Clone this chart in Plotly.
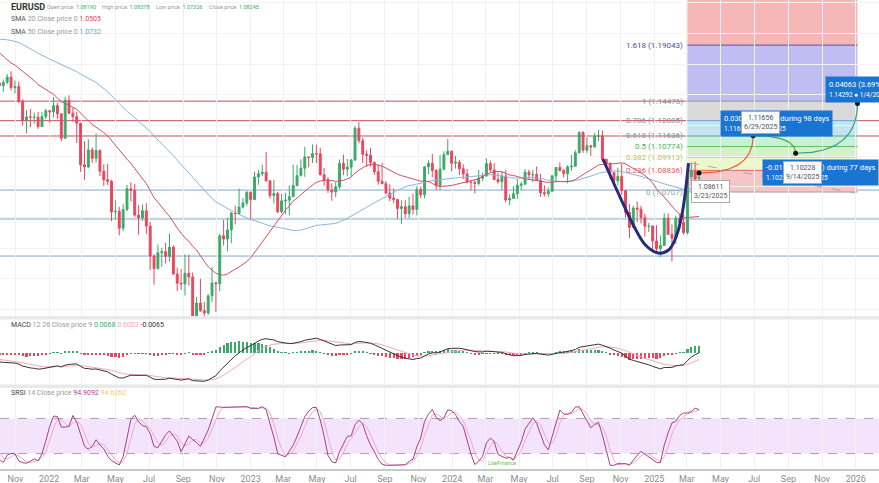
import numpy as np
import pandas as pd
import plotly.graph_objects as go
from plotly.subplots import make_subplots

W, H = 879, 483
FONT = "Roboto"
UP, DOWN = "#3aaa6a", "#e8475f"

# --- EURUSD weekly data (weeks start on Sunday, last week = 2025-03-23) ---
# closes before the visible window, used only to warm up SMA / MACD / SRSI
pre_close = [1.1824, 1.1837, 1.1860, 1.1647, 1.1876, 1.1834, 1.1856, 1.1962, 1.2121, 1.2113,
             1.2256, 1.2187, 1.2216, 1.2220, 1.2080, 1.2170, 1.2136, 1.2045, 1.2118, 1.2120,
             1.2075, 1.1915, 1.1952, 1.1903, 1.1795, 1.1762, 1.1900, 1.1982, 1.2097, 1.2020,
             1.2164, 1.2141, 1.2180, 1.2194, 1.2168, 1.2108, 1.1865, 1.1936, 1.1866, 1.1875,
             1.1806, 1.1772, 1.1870, 1.1762, 1.1795, 1.1697, 1.1795, 1.1880, 1.1813, 1.1726,
             1.1718, 1.1596]

close = [
    1.1573, 1.1601, 1.1644, 1.1558, 1.1567, 1.1446, 1.1289, 1.1319, 1.1316, 1.1317, 1.1240, 1.1322, 1.1370,  # 2021
    1.1360, 1.1411, 1.1344, 1.1145, 1.1454, 1.1349, 1.1322, 1.1268, 1.0929, 1.0911, 1.1050, 1.0982, 1.1046,  # 2022
    1.0876, 1.0807, 1.0794, 1.0545, 1.0550, 1.0412, 1.0564, 1.0733, 1.0721, 1.0519, 1.0496, 1.0554, 1.0430,
    1.0185, 1.0082, 1.0212, 1.0220, 1.0182, 1.0258, 1.0038, 0.9964, 0.9958, 1.0045, 1.0015, 0.9690, 0.9802,
    0.9740, 0.9721, 0.9861, 0.9966, 0.9960, 1.0350, 1.0324, 1.0398, 1.0536, 1.0531, 1.0584, 1.0617, 1.0705,
    1.0645, 1.0830, 1.0856, 1.0868, 1.0798, 1.0678, 1.0694, 1.0547, 1.0635, 1.0641, 1.0669, 1.0760, 1.0841,  # 2023
    1.0901, 1.0993, 1.0989, 1.1020, 1.1018, 1.0848, 1.0805, 1.0724, 1.0707, 1.0749, 1.0940, 1.0893, 1.0910,
    1.0968, 1.1227, 1.1125, 1.1015, 1.1007, 1.0947, 1.0872, 1.0795, 1.0775, 1.0699, 1.0657, 1.0645, 1.0573,
    1.0587, 1.0530, 1.0594, 1.0565, 1.0729, 1.0685, 1.0912, 1.0940, 1.0882, 1.0761, 1.0893, 1.1012, 1.1039,
    1.0942, 1.0950, 1.0897, 1.0854, 1.0786, 1.0784, 1.0777, 1.0820, 1.0838, 1.0938, 1.0887, 1.0809, 1.0791,  # 2024
    1.0838, 1.0642, 1.0655, 1.0693, 1.0762, 1.0771, 1.0869, 1.0847, 1.0849, 1.0801, 1.0702, 1.0693, 1.0713,
    1.0839, 1.0907, 1.0883, 1.0856, 1.0911, 1.0917, 1.1027, 1.1193, 1.1048, 1.1084, 1.1075, 1.1162, 1.1164,
    1.0975, 1.0936, 1.0867, 1.0797, 1.0834, 1.0718, 1.0541, 1.0419, 1.0576, 1.0567, 1.0500, 1.0428, 1.0429,
    1.0308, 1.0245, 1.0272, 1.0494, 1.0362, 1.0330, 1.0493, 1.0460, 1.0376, 1.0834, 1.0876, 1.0816, 1.08245,  # 2025
]
high = [
    1.1640, 1.1624, 1.1669, 1.1692, 1.1616, 1.1608, 1.1464, 1.1374, 1.1383, 1.1355, 1.1360, 1.1360, 1.1386,
    1.1367, 1.1482, 1.1433, 1.1336, 1.1483, 1.1495, 1.1395, 1.1360, 1.1234, 1.1121, 1.1137, 1.1070, 1.1185,
    1.1054, 1.0932, 1.0936, 1.0807, 1.0642, 1.0586, 1.0607, 1.0765, 1.0787, 1.0774, 1.0601, 1.0606, 1.0615,
    1.0463, 1.0200, 1.0279, 1.0254, 1.0293, 1.0368, 1.0273, 1.0090, 1.0079, 1.0199, 1.0198, 1.0051, 0.9853,
    0.9999, 0.9810, 0.9875, 1.0094, 0.9976, 1.0366, 1.0481, 1.0496, 1.0545, 1.0595, 1.0736, 1.0658, 1.0713,
    1.0713, 1.0874, 1.0887, 1.0929, 1.1033, 1.0806, 1.0805, 1.0709, 1.0692, 1.0701, 1.0760, 1.0930, 1.0927,
    1.0973, 1.1075, 1.0991, 1.1095, 1.1092, 1.1068, 1.0904, 1.0829, 1.0779, 1.0787, 1.0971, 1.1012, 1.0976,
    1.0975, 1.1245, 1.1276, 1.1149, 1.1047, 1.1065, 1.0955, 1.0932, 1.0946, 1.0796, 1.0769, 1.0736, 1.0652,
    1.0640, 1.0640, 1.0668, 1.0695, 1.0756, 1.0748, 1.0914, 1.0965, 1.1017, 1.0894, 1.1009, 1.1040, 1.1140,
    1.1046, 1.1000, 1.0969, 1.0933, 1.0895, 1.0806, 1.0806, 1.0888, 1.0866, 1.0981, 1.0964, 1.0942, 1.0865,
    1.0877, 1.0885, 1.0690, 1.0753, 1.0812, 1.0790, 1.0895, 1.0889, 1.0889, 1.0916, 1.0853, 1.0761, 1.0744,
    1.0844, 1.0910, 1.0948, 1.0895, 1.0926, 1.1008, 1.1048, 1.1202, 1.1202, 1.1155, 1.1091, 1.1189, 1.1214,
    1.1209, 1.0976, 1.0951, 1.0871, 1.0905, 1.0937, 1.0725, 1.0609, 1.0596, 1.0630, 1.0595, 1.0530, 1.0455,
    1.0437, 1.0437, 1.0353, 1.0533, 1.0533, 1.0443, 1.0513, 1.0528, 1.0528, 1.0888, 1.0947, 1.0955, 1.08378,
]
low = [
    1.1529, 1.1522, 1.1586, 1.1535, 1.1513, 1.1432, 1.1250, 1.1186, 1.1235, 1.1262, 1.1222, 1.1264, 1.1300,
    1.1272, 1.1314, 1.1300, 1.1121, 1.1144, 1.1341, 1.1280, 1.1106, 1.0871, 1.0806, 1.0900, 1.0945, 1.0945,
    1.0837, 1.0757, 1.0765, 1.0470, 1.0483, 1.0354, 1.0389, 1.0550, 1.0628, 1.0505, 1.0359, 1.0470, 1.0366,
    1.0072, 0.9952, 1.0078, 1.0097, 1.0123, 1.0141, 1.0034, 0.9900, 0.9910, 0.9864, 0.9944, 0.9668, 0.9536,
    0.9730, 0.9631, 0.9705, 0.9810, 0.9730, 0.9899, 1.0271, 1.0224, 1.0290, 1.0443, 1.0549, 1.0573, 1.0596,
    1.0483, 1.0644, 1.0766, 1.0835, 1.0793, 1.0654, 1.0613, 1.0532, 1.0533, 1.0525, 1.0516, 1.0713, 1.0788,
    1.0832, 1.0831, 1.0910, 1.0944, 1.0942, 1.0840, 1.0760, 1.0700, 1.0635, 1.0665, 1.0732, 1.0844, 1.0835,
    1.0833, 1.0959, 1.1103, 1.0943, 1.0912, 1.0914, 1.0845, 1.0766, 1.0770, 1.0686, 1.0632, 1.0616, 1.0488,
    1.0448, 1.0496, 1.0495, 1.0523, 1.0516, 1.0657, 1.0656, 1.0853, 1.0828, 1.0724, 1.0723, 1.0885, 1.1008,
    1.0877, 1.0897, 1.0845, 1.0813, 1.0778, 1.0722, 1.0695, 1.0761, 1.0796, 1.0832, 1.0872, 1.0803, 1.0776,
    1.0724, 1.0623, 1.0601, 1.0655, 1.0650, 1.0723, 1.0765, 1.0805, 1.0788, 1.0798, 1.0668, 1.0671, 1.0666,
    1.0710, 1.0788, 1.0873, 1.0825, 1.0778, 1.0880, 1.0919, 1.1021, 1.1026, 1.1026, 1.1001, 1.1068, 1.1121,
    1.0950, 1.0906, 1.0811, 1.0761, 1.0760, 1.0683, 1.0497, 1.0332, 1.0423, 1.0460, 1.0450, 1.0343, 1.0380,
    1.0226, 1.0213, 1.0178, 1.0266, 1.0360, 1.0141, 1.0285, 1.0401, 1.0359, 1.0360, 1.0803, 1.0797, 1.07326,
]
last_open = 1.08190     # header "Open price" of the current week

# --- drawings ---
fib_price = [1.0707, 1.08836, 1.09913, 1.10774, 1.11636, 1.12885, 1.14476, 1.19043, 1.2646]
fib_label = ["0 (1.0707)", "0.236 (1.08836)", "0.382 (1.09913)", "0.5 (1.10774)", "0.618 (1.11636)",
             "0.786 (1.12885)", "1 (1.14476)", "1.618 (1.19043)", None]
fib_line = ["#8fa4b4", "#e06464", "#b9cf52", "#5cb85c", "#5aa4a0", "#6aa8d6", "#9a9a9a", "#6b4c8f", None]
fib_text = ["#8fa0ae", "#d9605a", "#b5c94a", "#4caf50", "#6a9c9a", "#8a8a8a", "#8a8a8a", "#4d4d8f", None]
fib_fill = ["#f6c6c6", "#eef6cc", "#d6f1c8", "#c8efd8", "#c4e4f4", "#dadada", "#bebef2", "#f4b6b6"]
fib_start, fib_end = "2025-03-02", "2026-01-04"

red_levels = [1.14476, 1.12885, 1.11636]
blue_levels = [1.0723, 1.0487, 1.0185]

cup_dates = ["2024-09-30", "2024-10-31", "2024-11-24", "2024-12-16", "2025-01-08",
             "2025-01-27", "2025-02-10", "2025-02-21", "2025-03-04"]
cup_prices = [1.0976, 1.0666, 1.0438, 1.0275, 1.0210, 1.0234, 1.0348, 1.0544, 1.0943]

trend_dates = ["2025-03-07", "2025-12-31"]
trend_prices = [1.0943, 1.0699]

proj_dates = ["2025-03-23", "2025-06-29", "2025-09-14", "2026-01-04"]
proj_prices = [1.08611, 1.11656, 1.10228, 1.14292]
proj_colors = ["#e0603a", "#3fae5a", "#3a9e8a"]

# --- series ---
closes_all = pd.Series(pre_close + close, dtype=float)
dates_all = pd.date_range(end="2025-03-23", periods=len(closes_all), freq="W-SUN")
n_pre = len(pre_close)
dates = dates_all[n_pre:]
opens = list(closes_all.shift(1).iloc[n_pre:])   # FX weekly open ~ previous close
opens[-1] = last_open

sma20 = closes_all.rolling(20).mean()
sma50 = closes_all.rolling(50).mean()

ema12 = closes_all.ewm(span=12, adjust=False).mean()
ema26 = closes_all.ewm(span=26, adjust=False).mean()
macd = ema12 - ema26
signal = macd.ewm(span=9, adjust=False).mean()
hist = macd - signal

delta = closes_all.diff()
gain = delta.clip(lower=0).ewm(alpha=1 / 14, adjust=False).mean()
loss = (-delta.clip(upper=0)).ewm(alpha=1 / 14, adjust=False).mean()
rsi = 100 - 100 / (1 + gain / loss)
lo14, hi14 = rsi.rolling(14).min(), rsi.rolling(14).max()
stoch = (rsi - lo14) / (hi14 - lo14) * 100
k_line = stoch.rolling(3).mean()
d_line = k_line.rolling(3).mean()


def paper_x(px):
    return px / W


def paper_y(py):
    return 1 - py / H


fig = make_subplots(rows=3, cols=1, shared_xaxes=True, vertical_spacing=0)

fig.add_trace(go.Candlestick(x=dates, open=opens, high=high, low=low, close=close,
                             increasing=dict(line=dict(color=UP, width=1), fillcolor=UP),
                             decreasing=dict(line=dict(color=DOWN, width=1), fillcolor=DOWN),
                             whiskerwidth=0, hoverinfo="skip"), row=1, col=1)
fig.add_trace(go.Scatter(x=dates_all, y=sma50, mode="lines", line=dict(color="#8ab6dc", width=1)), row=1, col=1)
fig.add_trace(go.Scatter(x=dates_all, y=sma20, mode="lines", line=dict(color="#cf4f68", width=1)), row=1, col=1)

# cup drawing + trend
fig.add_trace(go.Scatter(x=cup_dates, y=cup_prices, mode="lines", line=dict(color="#2b2a78", width=3, shape="spline")),
              row=1, col=1)
fig.add_trace(go.Scatter(x=trend_dates, y=trend_prices, mode="lines",
                         line=dict(color="#a8a8a8", width=1, dash="dash")), row=1, col=1)

# projection path: each leg leaves flat and arrives steep
t = np.linspace(0, 1, 40)
pms = [pd.Timestamp(d).value / 1e6 for d in proj_dates]
for i in range(len(proj_dates) - 1):
    x0, x1, y0, y1 = pms[i], pms[i + 1], proj_prices[i], proj_prices[i + 1]
    bx = (1 - t) ** 2 * x0 + 2 * (1 - t) * t * x1 + t ** 2 * x1
    by = (1 - t) ** 2 * y0 + 2 * (1 - t) * t * y0 + t ** 2 * y1
    fig.add_trace(go.Scatter(x=pd.to_datetime(bx, unit="ms"), y=by, mode="lines",
                             line=dict(color=proj_colors[i], width=1.2)), row=1, col=1)
fig.add_trace(go.Scatter(x=proj_dates, y=proj_prices, mode="markers",
                         marker=dict(color="#111", size=5)), row=1, col=1)

# MACD
fig.add_trace(go.Bar(x=dates_all, y=hist, width=4 * 86400000,
                     marker=dict(color=[UP if v >= 0 else DOWN for v in hist.fillna(0)], line=dict(width=0))),
              row=2, col=1)
fig.add_trace(go.Scatter(x=dates_all, y=signal, mode="lines", line=dict(color="#f2a9b8", width=1)), row=2, col=1)
fig.add_trace(go.Scatter(x=dates_all, y=macd, mode="lines", line=dict(color="#333", width=1)), row=2, col=1)

# SRSI
fig.add_trace(go.Scatter(x=dates_all, y=d_line, mode="lines", line=dict(color="#f3a8c8", width=1)), row=3, col=1)
fig.add_trace(go.Scatter(x=dates_all, y=k_line, mode="lines", line=dict(color="#a2408e", width=1)), row=3, col=1)

shapes = []
# fib bands + levels
for i in range(len(fib_fill)):
    shapes.append(dict(type="rect", xref="x", yref="y", x0=fib_start, x1=fib_end,
                       y0=fib_price[i], y1=min(fib_price[i + 1], 1.2272),
                       fillcolor=fib_fill[i], line=dict(width=0), layer="below"))
for p, c in zip(fib_price, fib_line):
    if c:
        shapes.append(dict(type="line", xref="x", yref="y", x0=fib_start, x1=fib_end, y0=p, y1=p,
                           line=dict(color=c, width=1), layer="below"))
for p in red_levels:
    shapes.append(dict(type="line", xref="x domain", yref="y", x0=0, x1=1, y0=p, y1=p,
                       line=dict(color="#c0505c", width=1), layer="below"))
for p in blue_levels:
    shapes.append(dict(type="line", xref="x domain", yref="y", x0=0, x1=1, y0=p, y1=p,
                       line=dict(color="#7fa9c9", width=1), layer="below"))
# SRSI band
shapes.append(dict(type="rect", xref="x3 domain", yref="y3", x0=0, x1=1, y0=20, y1=80,
                   fillcolor="#f3e4fb", line=dict(width=0), layer="below"))
for lv in (20, 80):
    shapes.append(dict(type="line", xref="x3 domain", yref="y3", x0=0, x1=1, y0=lv, y1=lv,
                       line=dict(color="#b894bc", width=1, dash="dash"), layer="below"))
# panel separators
for top, bot in ((316, 319.5), (384.5, 388)):
    shapes.append(dict(type="rect", xref="paper", yref="paper", x0=0, x1=1,
                       y0=paper_y(bot), y1=paper_y(top), fillcolor="#e9e9e9", line=dict(width=0)))

ann = []


def note(px, py, text, size=7, color="#999", **kw):
    ann.append(dict(x=paper_x(px), y=paper_y(py), xref="paper", yref="paper", text=text, showarrow=False,
                    xanchor=kw.pop("xanchor", "left"), yanchor=kw.pop("yanchor", "middle"),
                    font=dict(family=FONT, size=size, color=color), **kw))


def val(v, c):
    return f"<span style='color:{c}'>{v}</span>"


note(9, 7, "<b>EURUSD</b>", size=9, color="#333")
note(45, 7, "Open price: " + val("1.08190", UP), size=5.5)
note(100, 7, "High price: " + val("1.08378", UP), size=5.5)
note(154, 7, "Low price: " + val("1.07326", UP), size=5.5)
note(207, 7, "Close price: " + val("1.08245", UP), size=5.5)
note(9, 19, val("SMA", "#555") + " 20 Close price 0 " + val("1.0505", "#e0405a"), size=7)
note(9, 32, val("SMA", "#555") + " 50 Close price 0 " + val("1.0732", "#6b9ccc"), size=7)
note(9, 325, val("MACD", "#444") + " 12 26 Close price 9 " + val("0.0068", UP) + " "
     + val("0.0003", "#f2a9b8") + " " + val("-0.0065", "#333"), size=7)
note(9, 393, val("SRSI", "#444") + " 14 Close price " + val("94.9092", "#b03a9a") + " "
     + val("94.6262", "#e6cf72"), size=7)
note(486, 463, "LiteFinance", size=5.5, color="#6cbf4a")

for p, lab, c in zip(fib_price, fib_label, fib_text):
    if lab:
        ann.append(dict(x=fib_start, y=p, xref="x", yref="y", text=lab, showarrow=False,
                        xanchor="right", yanchor="middle", xshift=-2,
                        font=dict(family=FONT, size=8, color=c)))

# measurement boxes (blue) and price tooltips (white)
boxes = [(720, 110, "0.03045 (2.80%) during 98 days", "1.11656 \u25cf 6/29/2025"),
         (762, 159, "-0.01428 (-1.28%) during 77 days", "1.10228 \u25cf 9/14/2025"),
         (825, 76, "0.04063 (3.69%) during 112 days", "1.14292 \u25cf 1/4/2026")]
for bx_, by_, l1, l2 in boxes:
    note(bx_, by_, f"{l1}<br><span style='font-size:6.5px'>{l2}</span>", size=7.5, color="white",
         yanchor="top", align="left", bgcolor="#1a74d2", borderpad=3)
tips = [(691, 180, "1.08611", "3/23/2025"), (741, 111, "1.11656", "6/29/2025"),
        (783, 161, "1.10228", "9/14/2025")]
for tx, ty, p, d in tips:
    note(tx, ty, f"{p}<br>{d}", size=7, color="#555", yanchor="top", align="center",
         bgcolor="rgba(255,255,255,0.96)", bordercolor="#aaa", borderwidth=1, borderpad=2)

tickvals = pd.date_range("2021-11-01", "2026-01-01", freq="2MS")
ticktext = [str(d.year) if d.month == 1 else d.strftime("%b") for d in tickvals]

fig.update_xaxes(range=["2021-10-04", "2026-02-12"], tickvals=tickvals, ticktext=ticktext,
                 showgrid=True, gridcolor="#f1f1f1", zeroline=False, rangeslider=dict(visible=False),
                 showticklabels=False, ticks="", automargin=False)
fig.update_xaxes(showticklabels=True, tickfont=dict(family=FONT, size=9, color="#8c8c8c"),
                 showline=True, linecolor="#c8c8c8", linewidth=1.5, row=3, col=1)
fig.update_yaxes(showticklabels=False, zeroline=False, showgrid=False, automargin=False)

fig.update_layout(
    width=W, height=H, margin=dict(l=0, r=0, t=0, b=0, pad=0),
    paper_bgcolor="white", plot_bgcolor="white", showlegend=False, bargap=0,
    font=dict(family=FONT),
    yaxis=dict(domain=[paper_y(317), 1], range=[0.96883, 1.2272], showgrid=True, gridcolor="#f3f3f3",
               dtick=0.025, tick0=1.0),
    yaxis2=dict(domain=[paper_y(384), paper_y(319)], range=[-0.031, 0.034]),
    yaxis3=dict(domain=[paper_y(469), paper_y(388)], range=[-6.3, 131.9]),
    shapes=shapes, annotations=ann,
)

# the page's default body margin would shift the 879x483 figure by 8px
fig.write_html("out.html", config={"displayModeBar": False},
               post_script="document.body.style.margin='0';")
